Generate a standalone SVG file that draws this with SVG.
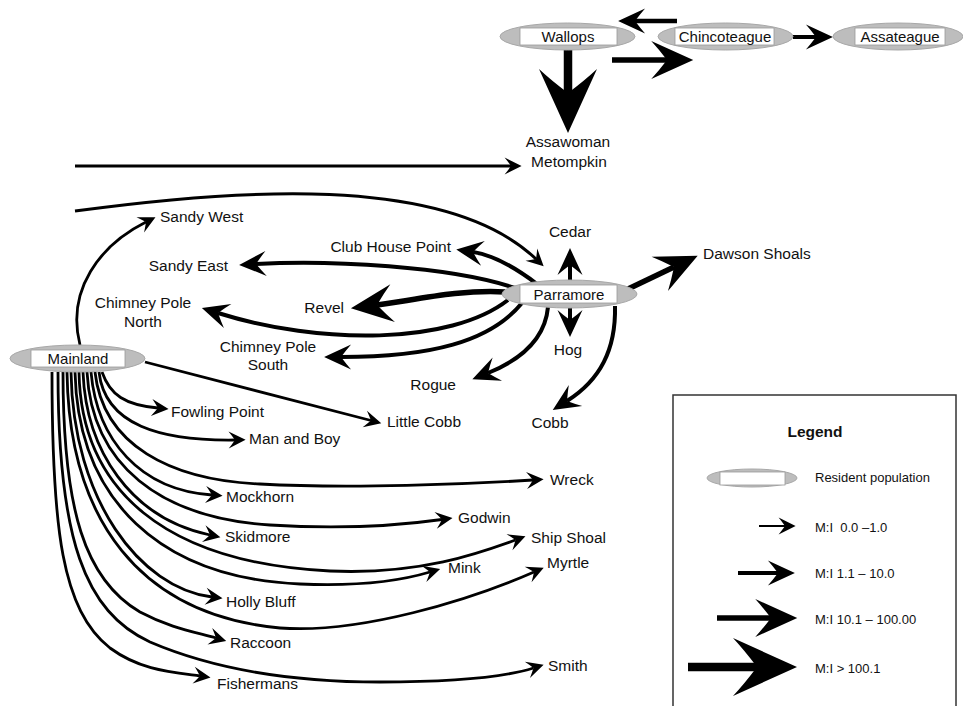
<svg xmlns="http://www.w3.org/2000/svg" width="963" height="706" viewBox="0 0 963 706">
<style>
.n ellipse{fill:#bdbdbd;stroke:#a8a8a8;stroke-width:1}
.n rect{fill:#fff;stroke:#9a9a9a;stroke-width:0.8}
.n text{font-family:"Liberation Sans",Arial,sans-serif;font-size:15px;text-anchor:middle;fill:#111}
.l text{font-family:"Liberation Sans",Arial,sans-serif;font-size:15.5px;fill:#111}
.lg text{font-family:"Liberation Sans",Arial,sans-serif;font-size:13px;fill:#111}
.e{fill:none;stroke:#000}
.e1{stroke-width:2.8;marker-end:url(#m1)}
.e2{stroke-width:4;marker-end:url(#m2)}
.e3{stroke-width:5.5;marker-end:url(#m3)}
.e4{stroke-width:8.5;marker-end:url(#m4)}
</style>
<defs>
<marker id="m1" markerUnits="userSpaceOnUse" orient="auto" overflow="visible" markerWidth="40" markerHeight="40" refX="0" refY="0"><path d="M10.6,0 L-6.4,-8.5 Q-3.4,-4.8 0,0 Q-3.4,4.8 -6.4,8.5 Z" fill="#000"/></marker>
<marker id="m2" markerUnits="userSpaceOnUse" orient="auto" overflow="visible" markerWidth="60" markerHeight="60" refX="0" refY="0"><path d="M16.9,0 L-10.1,-12.5 Q-5.4,-7.2 0,0 Q-5.4,7.2 -10.1,12.5 Z" fill="#000"/></marker>
<marker id="m3" markerUnits="userSpaceOnUse" orient="auto" overflow="visible" markerWidth="90" markerHeight="90" refX="0" refY="0"><path d="M26.25,0 L-15.75,-19 Q-8.4,-11 0,0 Q-8.4,11 -15.75,19 Z" fill="#000"/></marker>
<marker id="m4" markerUnits="userSpaceOnUse" orient="auto" overflow="visible" markerWidth="130" markerHeight="130" refX="0" refY="0"><path d="M40,0 L-24,-29 Q-12.8,-17 0,0 Q-12.8,17 -24,29 Z" fill="#000"/></marker>
</defs>
<rect width="963" height="706" fill="#fff"/>

<g id="connectors" class="e">
<path class="e2" style="stroke-width:4.5" d="M677,21 L635,21"/>
<path class="e3" d="M612,60 L667,60"/>
<path class="e2" d="M793,37 L816,37"/>
<path class="e4" d="M568,50 L568,93"/>
<path class="e1" style="stroke-width:3" d="M75,166 L511,166"/>
<path class="e1" style="stroke-width:3" d="M75,211 C230,190 445,172 536,259"/>
<path class="e2" d="M537,284 Q500,256 473,252"/>
<path class="e2" d="M515,288 C450,266 330,260 256,264"/>
<path class="e3" d="M505,292 C460,289 410,301 377,305"/>
<path class="e2" d="M508,300 C450,345 320,345 218,313"/>
<path class="e2" d="M522,303 C490,342 430,357 341,357"/>
<path class="e2" d="M548,307 C545,340 520,360 488,373"/>
<path class="e2" d="M615,306 C616,350 600,380 567,401"/>
<path class="e2" d="M570,281 L570,265"/>
<path class="e2" d="M570,307 L570,320"/>
<path class="e3" d="M628,289 L674,267"/>
<path class="e1" d="M80,345 C66,290 100,245 146,222"/>
<path class="e1" d="M145,362 L371,420.5"/>
<path class="e1" d="M102,372 C110,395 125,405 158,408"/>
<path class="e1" d="M99,372 C105,425 160,441 235,440"/>
<path class="e1" d="M95,372 C103,445 170,480 260,484 C350,489 470,484 533,480"/>
<path class="e1" d="M91,372 C97,440 140,490 212,495"/>
<path class="e1" d="M87,372 C92,465 160,518 270,525 C350,530 410,524 442,519.5"/>
<path class="e1" d="M83,372 C86,450 130,518 210,535"/>
<path class="e1" d="M79,372 C81,490 165,563 330,571 C420,575 480,553 515.5,540"/>
<path class="e1" d="M75,372 C78,500 160,578 300,584 C370,587 410,578 430,572"/>
<path class="e1" d="M71,372 C73,500 140,588 212,597"/>
<path class="e1" d="M67,372 C69,520 140,615 280,628 C360,634 470,600 534,572"/>
<path class="e1" d="M63,372 C63,510 85,580 140,612 C170,628 195,632 216,638"/>
<path class="e1" d="M58,372 C58,540 85,612 150,642 C220,672 300,682 380,682 C450,682 505,677 533.5,668"/>
<path class="e1" d="M52,372 C52,530 62,610 110,648 C140,670 170,672 200,676"/>
</g>

<g id="node-wallops" class="n"><ellipse cx="567.5" cy="36.5" rx="67.5" ry="13.5"/><rect x="520" y="28" width="97" height="17"/><text x="568" y="42">Wallops</text></g>
<g id="node-chincoteague" class="n"><ellipse cx="725.5" cy="36.5" rx="67.5" ry="13.5"/><rect x="675" y="28" width="99" height="17"/><text x="725" y="42">Chincoteague</text></g>
<g id="node-assateague" class="n"><ellipse cx="898" cy="36.5" rx="65" ry="13.5"/><rect x="855" y="28" width="90" height="17"/><text x="900" y="42">Assateague</text></g>
<g id="node-parramore" class="n"><ellipse cx="569.5" cy="294" rx="67.5" ry="14"/><rect x="520" y="285" width="97" height="18"/><text x="569" y="300">Parramore</text></g>
<g id="node-mainland" class="n"><ellipse cx="77.5" cy="358.5" rx="67.5" ry="13.5"/><rect x="31" y="350" width="94" height="17"/><text x="78" y="364">Mainland</text></g>

<g class="l">
<g id="lbl-assawoman"><text x="568" y="147" text-anchor="middle">Assawoman</text><text x="569" y="167" text-anchor="middle">Metompkin</text></g>
<g id="lbl-sandywest"><text x="160" y="222">Sandy West</text></g>
<g id="lbl-clubhouse"><text x="451" y="252" text-anchor="end">Club House Point</text></g>
<g id="lbl-cedar"><text x="570" y="237" text-anchor="middle">Cedar</text></g>
<g id="lbl-dawson"><text x="703" y="259">Dawson Shoals</text></g>
<g id="lbl-sandyeast"><text x="228" y="271" text-anchor="end">Sandy East</text></g>
<g id="lbl-cpnorth"><text x="143" y="308" text-anchor="middle">Chimney Pole</text><text x="143" y="327" text-anchor="middle">North</text></g>
<g id="lbl-revel"><text x="344" y="313" text-anchor="end">Revel</text></g>
<g id="lbl-cpsouth"><text x="268" y="352" text-anchor="middle">Chimney Pole</text><text x="268" y="370" text-anchor="middle">South</text></g>
<g id="lbl-hog"><text x="568" y="355" text-anchor="middle">Hog</text></g>
<g id="lbl-rogue"><text x="456" y="390" text-anchor="end">Rogue</text></g>
<g id="lbl-littlecobb"><text x="387" y="427">Little Cobb</text></g>
<g id="lbl-cobb"><text x="550" y="428" text-anchor="middle">Cobb</text></g>
<g id="lbl-fowling"><text x="171" y="417">Fowling Point</text></g>
<g id="lbl-manboy"><text x="249" y="444">Man and Boy</text></g>
<g id="lbl-wreck"><text x="550" y="485">Wreck</text></g>
<g id="lbl-mockhorn"><text x="226" y="502">Mockhorn</text></g>
<g id="lbl-godwin"><text x="458" y="523">Godwin</text></g>
<g id="lbl-skidmore"><text x="225" y="542">Skidmore</text></g>
<g id="lbl-shipshoal"><text x="531" y="543">Ship Shoal</text></g>
<g id="lbl-mink"><text x="448" y="573">Mink</text></g>
<g id="lbl-myrtle"><text x="547" y="568">Myrtle</text></g>
<g id="lbl-hollybluff"><text x="226" y="607">Holly Bluff</text></g>
<g id="lbl-raccoon"><text x="230" y="648">Raccoon</text></g>
<g id="lbl-smith"><text x="548" y="671">Smith</text></g>
<g id="lbl-fishermans"><text x="217" y="689">Fishermans</text></g>
</g>

<g id="legend" class="lg">
<rect x="673" y="395" width="283" height="330" fill="#fff" stroke="#333" stroke-width="1.5"/>
<text x="815" y="437" text-anchor="middle" style="font-weight:bold;font-size:15.5px">Legend</text>
<g class="n"><ellipse cx="752" cy="478" rx="45" ry="9"/><rect x="720" y="472" width="65" height="13"/></g>
<text x="815" y="482">Resident population</text>
<path class="e e1" style="stroke-width:2" d="M759,526 L785,526"/>
<text x="815" y="532">M:I&#160; 0.0 –1.0</text>
<path class="e e2" d="M738,573 L778,573"/>
<text x="815" y="578">M:I 1.1 – 10.0</text>
<path class="e e3" d="M717,618 L771,618"/>
<text x="815" y="624">M:I 10.1 – 100.00</text>
<path class="e e4" d="M688,667 L757,667"/>
<text x="815" y="673">M:I &gt; 100.1</text>
</g>
</svg>
